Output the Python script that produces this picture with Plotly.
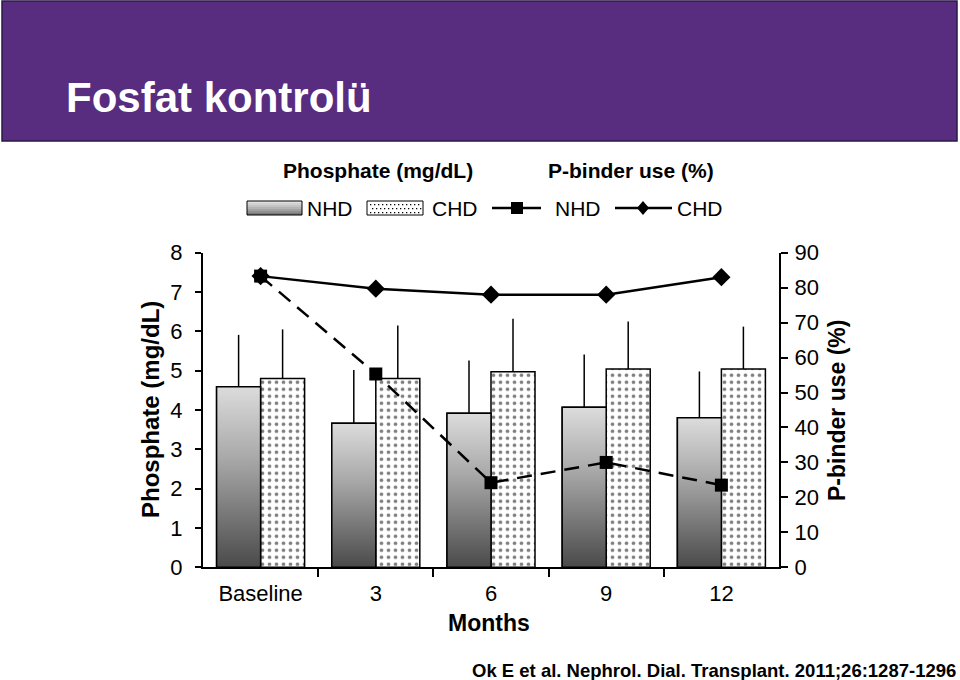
import plotly.graph_objects as go

# ---------------- data ----------------
months = ["Baseline", "3", "6", "9", "12"]
phos_nhd = [4.59, 3.66, 3.92, 4.07, 3.80]
phos_nhd_sd = [1.32, 1.36, 1.34, 1.34, 1.18]
phos_chd = [4.80, 4.80, 4.97, 5.04, 5.04]
phos_chd_sd = [1.25, 1.35, 1.35, 1.21, 1.08]
binder_nhd = [83.3, 55.3, 24.2, 30.0, 23.5]
binder_chd = [83.3, 79.7, 78.0, 78.0, 83.0]
left_ticks = [0, 1, 2, 3, 4, 5, 6, 7, 8]
right_ticks = [0, 10, 20, 30, 40, 50, 60, 70, 80, 90]

# ---------------- style ----------------
W = 0.382          # bar width (axis units)
FONT = "Liberation Sans, Arial, sans-serif"
PURPLE = "#582c7f"
x_idx = list(range(len(months)))


def X(px):
    return px / 960.0


def Y(py):
    return 1 - py / 680.0


fig = go.Figure()

# NHD bars (frame + error bars); gradient fill drawn on top by scatter polygons
fig.add_trace(go.Bar(
    x=x_idx, y=phos_nhd, width=W, offset=-W,
    marker=dict(color="rgba(0,0,0,0)", line=dict(color="black", width=1.5)),
    error_y=dict(type="data", symmetric=False, array=phos_nhd_sd,
                 arrayminus=[0] * len(phos_nhd), color="black", thickness=1.5, width=0),
    showlegend=False, hoverinfo="skip"))

# CHD bars (dotted)
fig.add_trace(go.Bar(
    x=x_idx, y=phos_chd, width=W, offset=0,
    marker=dict(color="white", line=dict(color="black", width=1.5),
                pattern=dict(shape=".", fgcolor="black", bgcolor="white",
                             size=7, solidity=0.22)),
    error_y=dict(type="data", symmetric=False, array=phos_chd_sd,
                 arrayminus=[0] * len(phos_chd), color="black", thickness=1.5, width=0),
    showlegend=False, hoverinfo="skip"))

# gradient fill for NHD bars
for i, v in zip(x_idx, phos_nhd):
    fig.add_trace(go.Scatter(
        x=[i - W, i - W, i, i, i - W], y=[0, v, v, 0, 0],
        mode="lines", fill="toself",
        fillgradient=dict(type="vertical",
                          colorscale=[[0, "#4a4a4a"], [0.6, "#a8a8a8"], [1, "#dcdcdc"]]),
        line=dict(color="black", width=1.5),
        showlegend=False, hoverinfo="skip"))

# P-binder lines (right axis)
fig.add_trace(go.Scatter(
    x=x_idx, y=binder_chd, yaxis="y2", mode="lines+markers",
    line=dict(color="black", width=2.5),
    marker=dict(symbol="diamond", size=14, color="black"),
    showlegend=False))
fig.add_trace(go.Scatter(
    x=x_idx, y=binder_nhd, yaxis="y2", mode="lines+markers",
    line=dict(color="black", width=2.5, dash="15px,9px"),
    marker=dict(symbol="square", size=13, color="black"),
    showlegend=False))

# ---------------- shapes (title band, legend) ----------------
shapes = [
    dict(type="rect", xref="paper", yref="paper", x0=X(2), x1=X(957), y0=Y(141), y1=Y(1),
         fillcolor=PURPLE, line=dict(color="#2e1748", width=1.5), layer="below"),
]

# legend: NHD gradient rectangle (strips)
strip_cols = ["#e0e0e0", "#d2d2d2", "#c4c4c4", "#b4b4b4", "#a2a2a2", "#8e8e8e", "#777777"]
y_top, y_bot = 201, 215
h = (y_bot - y_top) / len(strip_cols)
for k, c in enumerate(strip_cols):
    shapes.append(dict(type="rect", xref="paper", yref="paper",
                       x0=X(247), x1=X(302), y0=Y(y_top + (k + 1) * h), y1=Y(y_top + k * h),
                       fillcolor=c, line=dict(width=0)))
shapes.append(dict(type="rect", xref="paper", yref="paper", x0=X(247), x1=X(302),
                   y0=Y(215), y1=Y(201), line=dict(color="black", width=1)))

# legend: CHD dotted rectangle
shapes.append(dict(type="rect", xref="paper", yref="paper", x0=X(367), x1=X(423),
                   y0=Y(215), y1=Y(201), fillcolor="white", line=dict(color="black", width=1)))
path = ""
for r, yy in enumerate([204, 208, 212]):
    xs = 370 + (2 if r % 2 else 0)
    while xs < 421:
        path += "M{:.5f},{:.5f}L{:.5f},{:.5f}L{:.5f},{:.5f}L{:.5f},{:.5f}Z".format(
            X(xs), Y(yy), X(xs + 1.3), Y(yy), X(xs + 1.3), Y(yy + 1.3), X(xs), Y(yy + 1.3))
        xs += 4
shapes.append(dict(type="path", xref="paper", yref="paper", path=path,
                   fillcolor="black", line=dict(width=0)))

# legend: NHD line + square
shapes.append(dict(type="line", xref="paper", yref="paper", x0=X(492), x1=X(541),
                   y0=Y(208), y1=Y(208), line=dict(color="black", width=2.5)))
shapes.append(dict(type="rect", xref="paper", yref="paper", x0=X(511), x1=X(523),
                   y0=Y(214), y1=Y(202), fillcolor="black", line=dict(width=0)))
# legend: CHD line + diamond
shapes.append(dict(type="line", xref="paper", yref="paper", x0=X(615), x1=X(672),
                   y0=Y(208), y1=Y(208), line=dict(color="black", width=2.5)))
shapes.append(dict(type="path", xref="paper", yref="paper",
                   path="M{},{}L{},{}L{},{}L{},{}Z".format(X(643), Y(201), X(649), Y(208),
                                                           X(643), Y(215), X(637), Y(208)),
                   fillcolor="black", line=dict(width=0)))

# ---------------- annotations ----------------
ann = [
    dict(text="<b>Fosfat kontrolü</b>", x=X(64), y=Y(98), xanchor="left", yanchor="middle",
         font=dict(family=FONT, size=42, color="white")),
    dict(text="<b>Phosphate (mg/dL)</b>", x=X(378), y=Y(170), xanchor="center", yanchor="middle",
         font=dict(family=FONT, size=21, color="black")),
    dict(text="<b>P-binder use (%)</b>", x=X(631), y=Y(170), xanchor="center", yanchor="middle",
         font=dict(family=FONT, size=21, color="black")),
    dict(text="NHD", x=X(305), y=Y(208), xanchor="left", yanchor="middle",
         font=dict(family=FONT, size=21, color="black")),
    dict(text="CHD", x=X(430), y=Y(208), xanchor="left", yanchor="middle",
         font=dict(family=FONT, size=21, color="black")),
    dict(text="NHD", x=X(553), y=Y(208), xanchor="left", yanchor="middle",
         font=dict(family=FONT, size=21, color="black")),
    dict(text="CHD", x=X(675), y=Y(208), xanchor="left", yanchor="middle",
         font=dict(family=FONT, size=21, color="black")),
    dict(text="<b>Phosphate (mg/dL)</b>", x=X(150), y=Y(410), textangle=-90,
         xanchor="center", yanchor="middle", font=dict(family=FONT, size=24, color="black")),
    dict(text="<b>P-binder use (%)</b>", x=X(837), y=Y(411), textangle=-90,
         xanchor="center", yanchor="middle", font=dict(family=FONT, size=23, color="black")),
    dict(text="<b>Months</b>", x=X(489), y=Y(623), xanchor="center", yanchor="middle",
         font=dict(family=FONT, size=23, color="black")),
    dict(text="<b>Ok E et al. Nephrol. Dial. Transplant. 2011;26:1287-1296</b>",
         x=X(958), y=Y(670), xanchor="right", yanchor="middle",
         font=dict(family=FONT, size=18.5, color="black")),
]
for a in ann:
    a.update(xref="paper", yref="paper", showarrow=False)

fig.update_layout(
    width=960, height=680,
    margin=dict(l=0, r=0, t=0, b=0),
    paper_bgcolor="white", plot_bgcolor="white",
    barmode="overlay",
    showlegend=False,
    font=dict(family=FONT, size=22, color="black"),
    shapes=shapes,
    annotations=ann,
    xaxis=dict(
        domain=[X(203), X(779)], range=[-0.5, len(months) - 0.5],
        tickmode="array", tickvals=x_idx, ticktext=months,
        ticks="", showline=True, linecolor="black", linewidth=2,
        ticklabelstandoff=5,
        showgrid=False, zeroline=False, automargin=False,
        tickfont=dict(family=FONT, size=22, color="black"),
        minor=dict(tickmode="array", tickvals=[i + 0.5 for i in x_idx[:-1]],
                   ticks="outside", ticklen=8, tickwidth=1.5, tickcolor="black",
                   showgrid=False),
        fixedrange=True,
    ),
    yaxis=dict(
        domain=[Y(567.3), Y(252.7)], range=[0, 8],
        tickmode="array", tickvals=left_ticks,
        ticks="outside", ticklen=6, tickwidth=1.5, tickcolor="black",
        ticklabelstandoff=8,
        showline=True, linecolor="black", linewidth=2,
        showgrid=False, zeroline=False, automargin=False,
        tickfont=dict(family=FONT, size=22, color="black"),
        fixedrange=True,
    ),
    yaxis2=dict(
        overlaying="y", side="right", anchor="x", range=[0, 90],
        tickmode="array", tickvals=right_ticks,
        ticks="outside", ticklen=7, tickwidth=1.5, tickcolor="black",
        ticklabelstandoff=2,
        showline=True, linecolor="black", linewidth=2,
        showgrid=False, zeroline=False, automargin=False,
        tickfont=dict(family=FONT, size=22, color="black"),
        fixedrange=True,
    ),
)

fig.write_html("out.html", config={"displayModeBar": False},
               post_script="document.body.style.margin='0px';document.body.style.overflow='hidden';")
